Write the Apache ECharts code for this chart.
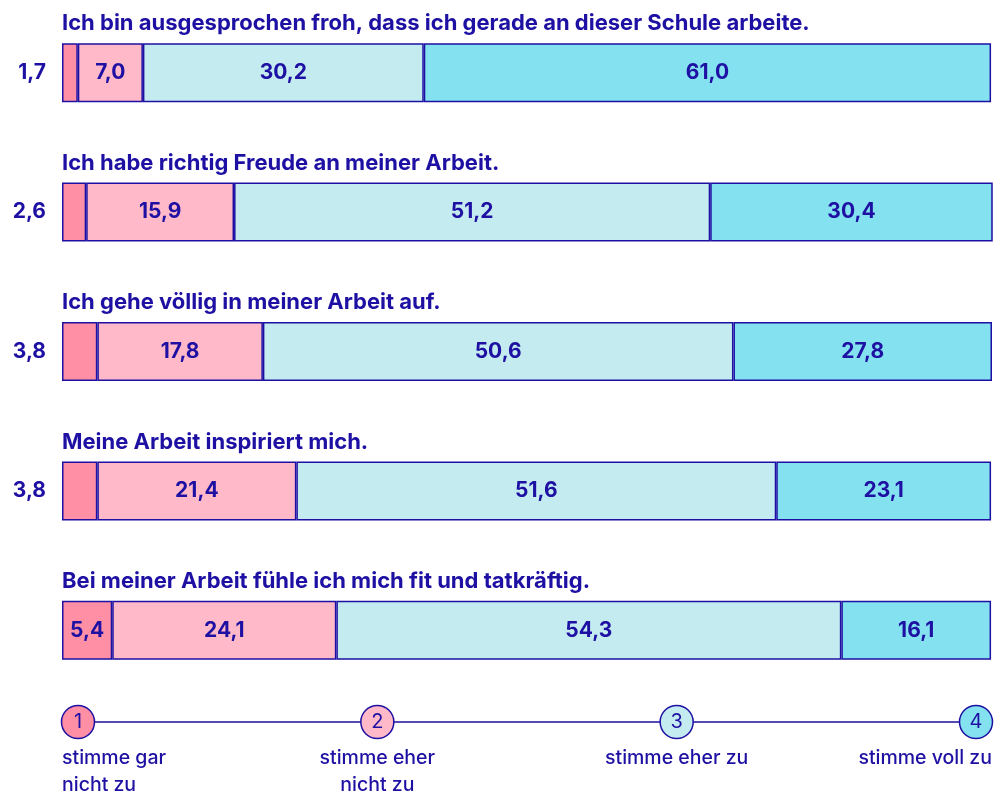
<!DOCTYPE html>
<html>
<head>
<meta charset="UTF-8">
<title></title>
<style>html,body{margin:0;padding:0;background:#fff;}#charts{width:997px;height:793px;}</style>
</head>
<body>
<div id="charts"></div>
<script src="https://cdn.jsdelivr.net/npm/echarts@6/dist/echarts.min.js"></script>
<script>
// Aussagen (von oben nach unten)
var questions = [
  'Ich bin ausgesprochen froh, dass ich gerade an dieser Schule arbeite.',
  'Ich habe richtig Freude an meiner Arbeit.',
  'Ich gehe völlig in meiner Arbeit auf.',
  'Meine Arbeit inspiriert mich.',
  'Bei meiner Arbeit fühle ich mich fit und tatkräftig.'
];
// Anteile in Prozent
var garNicht = [1.7, 2.6, 3.8, 3.8, 5.4];
var eherNicht = [7.0, 15.9, 17.8, 21.4, 24.1];
var eherZu = [30.2, 51.2, 50.6, 51.6, 54.3];
var vollZu = [61.0, 30.4, 27.8, 23.1, 16.1];
// Legende
var scaleNums = ['1', '2', '3', '4'];
var scaleNames = ['stimme gar\nnicht zu', 'stimme eher\nnicht zu', 'stimme eher zu', 'stimme voll zu'];

var colors = ['#ff8fa4', '#ffb9c9', '#c4ecf0', '#84e1f0'];
var ink = '#1d10a3';
var font = 'Inter';

var fmt = function (v) { return v.toFixed(1).replace('.', ','); };

var segment = function (name, values, idx) {
  return {
    name: name,
    type: 'bar',
    stack: 'total',
    barWidth: 59,
    xAxisIndex: 0, yAxisIndex: 0,
    itemStyle: { color: colors[idx], borderColor: ink, borderWidth: 1.5 },
    label: {
      show: true, position: 'inside', color: ink, fontFamily: font,
      fontWeight: 'bold', fontSize: 21,
      formatter: function (p) { return fmt(p.value); }
    },
    data: values.map(function (v) {
      // kleine Werte links neben dem Balken
      if (idx === 0 && v < 5) {
        return { value: v, label: { position: 'left', distance: 16 } };
      }
      return v;
    })
  };
};

var mycharts = echarts.init(document.getElementById('charts'));
var option = {
  backgroundColor: '#fff',
  animation: false,
  grid: [
    { left: 62, right: 5, top: 3, bottom: 93 },
    { left: 78, right: 21, top: 700, height: 44 }
  ],
  xAxis: [
    { type: 'value', gridIndex: 0, min: 0, max: 100, show: false },
    { type: 'value', gridIndex: 1, min: 1, max: 4, show: false }
  ],
  yAxis: [
    {
      type: 'category', gridIndex: 0, inverse: true, data: questions,
      axisLine: { show: false }, axisTick: { show: false },
      axisLabel: {
        inside: true, margin: 0, align: 'left', verticalAlign: 'bottom',
        padding: [0, 0, 38, 0],
        color: ink, fontFamily: font, fontWeight: 'bold', fontSize: 22
      }
    },
    { type: 'value', gridIndex: 1, min: -1, max: 1, show: false }
  ],
  series: [
    segment('stimme gar nicht zu', garNicht, 0),
    segment('stimme eher nicht zu', eherNicht, 1),
    segment('stimme eher zu', eherZu, 2),
    segment('stimme voll zu', vollZu, 3),
    {
      type: 'line', xAxisIndex: 1, yAxisIndex: 1,
      symbol: 'circle', symbolSize: 33,
      lineStyle: { color: ink, width: 1.5 },
      itemStyle: { borderColor: ink, borderWidth: 1.5 },
      label: {
        show: true, position: 'inside', color: ink, fontFamily: font,
        fontSize: 20, formatter: function (p) { return scaleNums[p.dataIndex]; }
      },
      data: scaleNums.map(function (n, i) {
        return { value: [i + 1, 0], itemStyle: { color: colors[i] } };
      }),
      z: 3
    },
    {
      type: 'scatter', xAxisIndex: 1, yAxisIndex: 1,
      symbolSize: 33, itemStyle: { color: 'rgba(0,0,0,0)' }, silent: true,
      label: {
        show: true, position: 'bottom', distance: 6, color: ink, opacity: 1,
        fontFamily: font, fontWeight: 500, fontSize: 19.5, lineHeight: 27,
        formatter: function (p) { return scaleNames[p.dataIndex]; }
      },
      data: scaleNames.map(function (n, i) {
        var item = { value: [i + 1, 0] };
        if (i === 0) item.label = { align: 'left', offset: [-16, 0] };
        if (i === scaleNames.length - 1) item.label = { align: 'right', offset: [16, 0] };
        return item;
      })
    }
  ]
};
mycharts.setOption(option);
</script>
</body>
</html>
